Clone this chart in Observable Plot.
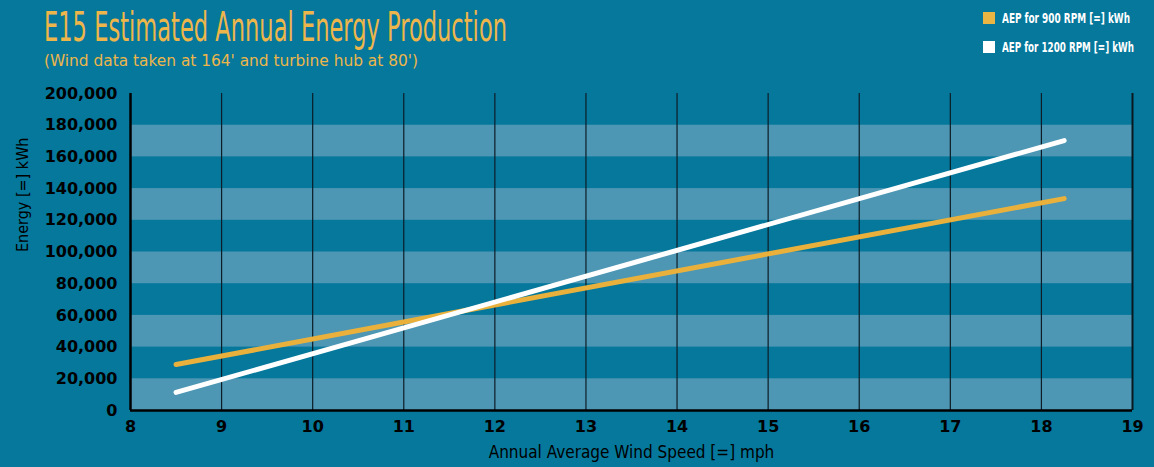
<!DOCTYPE html>
<html>
<head>
<meta charset="utf-8">
<script src="https://cdn.jsdelivr.net/npm/d3@7"></script>
<script src="https://cdn.jsdelivr.net/npm/@observablehq/plot@0.6"></script>
<style>
  html, body { margin: 0; padding: 0; background: #05789c; }
  #wrap { position: relative; width: 1154px; height: 467px; overflow: hidden; background: #05789c; }
  #title { position: absolute; left: 44px; top: 7px; color: #eeb64a; font-family: "DejaVu Sans Condensed", sans-serif; font-size: 40px; line-height: 40px; height: 40px; white-space: nowrap; transform-origin: 0 0; }
  #subtitle { position: absolute; left: 44px; top: 53px; color: #eeb64a; font-family: "DejaVu Sans Condensed", sans-serif; font-size: 16px; line-height: 16px; white-space: nowrap; transform-origin: 0 0; }
  .leg { position: absolute; left: 983px; color: #fff; font-family: "DejaVu Sans Condensed", sans-serif; font-weight: bold; font-size: 14.5px; line-height: 13px; white-space: nowrap; }
  .leg span.sw { display: inline-block; width: 12px; height: 12px; vertical-align: top; margin-right: 7px; }
  .leg span.tx { display: inline-block; transform-origin: 0 50%; }
  #chart { position: absolute; left: 0; top: 0; }
</style>
</head>
<body>
<div id="wrap">
  <div id="chart"></div>
  <div id="title">E15 Estimated Annual Energy Production</div>
  <div id="subtitle">(Wind data taken at 164' and turbine hub at 80')</div>
  <div class="leg" style="top:12px"><span class="sw" style="background:#ebb544"></span><span class="tx">AEP for 900 RPM [=] kWh</span></div>
  <div class="leg" style="top:41px"><span class="sw" style="background:#ffffff"></span><span class="tx">AEP for 1200 RPM [=] kWh</span></div>
</div>
<script>
const windSpeed = [8.5, 18.25];
const aep900 = [29000, 133700];
const aep1200 = [11400, 170300];
const xTicks = [8, 9, 10, 11, 12, 13, 14, 15, 16, 17, 18, 19];
const yTicks = [0, 20000, 40000, 60000, 80000, 100000, 120000, 140000, 160000, 180000, 200000];
const bandStarts = [0, 40000, 80000, 120000, 160000];
const bandHeight = 20000;

const series = [
  ...windSpeed.map((x, i) => ({x, y: aep900[i], s: "900"})),
  ...windSpeed.map((x, i) => ({x, y: aep1200[i], s: "1200"}))
];
const bands = bandStarts.map(b => ({y1: b, y2: b + bandHeight}));

const chart = Plot.plot({
  width: 1154,
  height: 467,
  marginLeft: 130,
  marginRight: 22,
  marginTop: 93,
  marginBottom: 57,
  style: {background: "transparent", color: "#000", fontFamily: "DejaVu Sans, sans-serif", overflow: "visible"},
  x: {domain: [8, 19], ticks: xTicks, tickSize: 0, tickPadding: 10, tickFormat: d => d, label: null},
  y: {domain: [0, 200000], ticks: yTicks, tickSize: 0, tickPadding: 13, tickFormat: d3.format(","), label: null},
  marks: [
    Plot.rectY(bands, {x1: 8, x2: 19, y1: "y1", y2: "y2", fill: "#5b9cb8", fillOpacity: 0.85}),
    Plot.ruleX(xTicks.slice(1, -1), {stroke: "#0d1c26", strokeWidth: 1.2}),
    Plot.ruleX([19], {stroke: "#0a1820", strokeWidth: 2}),
    Plot.ruleX([8], {stroke: "#000", strokeWidth: 2.5}),
    Plot.ruleY([0], {stroke: "#000", strokeWidth: 2.5}),
    Plot.axisX({ticks: xTicks, tickSize: 0, tickPadding: 10, fontSize: 16, fontWeight: "bold", tickFormat: d => d}),
    Plot.axisY({ticks: yTicks, tickSize: 0, tickPadding: 13, fontSize: 16, fontWeight: "bold", tickFormat: d3.format(",")}),
    Plot.line(series, {x: "x", y: "y", z: "s", stroke: d => d.s === "900" ? "#e9b13c" : "#ffffff", strokeWidth: 5, strokeLinecap: "round"}),
    Plot.text(["Annual Average Wind Speed [=] mph"], {frameAnchor: "bottom", dy: 47, fontSize: 17, fontFamily: "DejaVu Sans Condensed, sans-serif", fill: "#000"}),
    Plot.text(["Energy [=] kWh"], {frameAnchor: "left", dx: -108, rotate: -90, fontSize: 16, fontFamily: "DejaVu Sans Condensed, sans-serif", fill: "#000"})
  ]
});
document.getElementById("chart").appendChild(chart);
function fit(el, target) {
  const w = el.getBoundingClientRect().width;
  el.style.transform = `scaleX(${target / w})`;
}
fit(document.getElementById("title"), 463);
fit(document.getElementById("subtitle"), 374);
document.querySelectorAll(".leg .tx").forEach((el, i) => fit(el, i === 0 ? 128 : 132));
</script>
</body>
</html>
